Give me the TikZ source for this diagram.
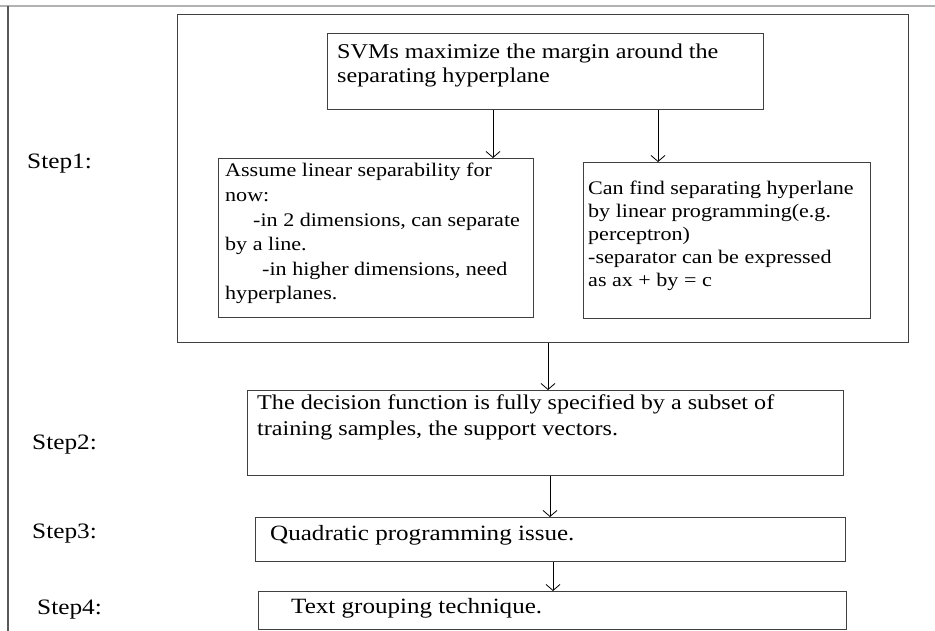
\documentclass[tikz,border=0pt]{standalone}
\usepackage{fontspec}
\setmainfont{Liberation Serif}[FakeStretch=1.15]
\usetikzlibrary{arrows.meta,positioning,calc}

\begin{document}
\begin{tikzpicture}[
  x=1pt, y=-1pt,
  box/.style={draw=black!75, line width=1.2pt, anchor=north west, inner sep=0pt},
  txt/.style={anchor=base west, align=left, inner sep=0pt,
              font=\fontsize{21}{24.5}\selectfont},
  small/.style={txt, font=\fontsize{19.2}{24.6}\selectfont},
  arr/.style={-{Straight Barb[length=6pt,width=14pt]}, line width=0.8pt},
  lbl/.style={anchor=base west, inner sep=0pt, font=\fontsize{22}{24}\selectfont}
]
  \useasboundingbox (0,0) rectangle (935,631);
  \draw[black!30, line width=1.5pt] (0,6) -- (935,6);
  \draw[black!65, line width=1.5pt] (8,6) -- (8,631);

  \node[box, minimum width=731, minimum height=328] (frame) at (177,14) {};
  \node[box, minimum width=436, minimum height=76] (svm) at (327,33) {};
  \node[txt, font=\fontsize{21}{24}\selectfont] (svmtxt) at (337,83)
    {SVMs maximize the margin around the\\separating hyperplane};
  \node[box, minimum width=315, minimum height=159] (lin) at (218,158) {};
  \node[small] (lintxt) at (225,300)
    {Assume linear separability for\\now:\\
     \hspace*{28pt}-in 2 dimensions, can separate\\by a line.\\
     \hspace*{37pt}-in higher dimensions, need\\hyperplanes.};
  \node[box, minimum width=287, minimum height=156] (lp) at (583,162) {};
  \node[small, font=\fontsize{19.2}{23}\selectfont] (lptxt) at (588,287)
    {Can find separating hyperlane\\by linear programming(e.g.\\perceptron)\\
     -separator can be expressed\\as ax + by = c};

  \node[box, minimum width=596, minimum height=85] (sv) at (247,390) {};
  \node[txt, font=\fontsize{21}{26}\selectfont] (svtxt) at (257,435)
    {The decision function is fully specified by a subset of\\
     training samples, the support vectors.};
  \node[box, minimum width=590, minimum height=44] (qp) at (255,517) {};
  \node[txt, font=\fontsize{21.8}{24}\selectfont] (qptxt) at (270,540)
    {Quadratic programming issue.};
  \node[box, minimum width=588, minimum height=38] (tg) at (258,591) {};
  \node[txt, font=\fontsize{21.8}{24}\selectfont] (tgtxt) at (291,613)
    {Text grouping technique.};

  \node[lbl] (step1) at (27,169) {Step1:};
  \node[lbl] (step2) at (32,449) {Step2:};
  \node[lbl] (step3) at (32,538) {Step3:};
  \node[lbl] (step4) at (37,614) {Step4:};

  \coordinate (c1) at (493,0);
  \coordinate (c2) at (658,0);
  \coordinate (c3) at (548,0);
  \coordinate (c4) at (550,0);
  \coordinate (c5) at (553,0);
  \draw[arr] (svm.south -| c1) -- (lin.north -| c1);
  \draw[arr] (svm.south -| c2) -- (lp.north -| c2);
  \draw[arr] (frame.south -| c3) -- (sv.north -| c3);
  \draw[arr] (sv.south -| c4) -- (qp.north -| c4);
  \draw[arr] (qp.south -| c5) -- (tg.north -| c5);
\end{tikzpicture}
\end{document}
